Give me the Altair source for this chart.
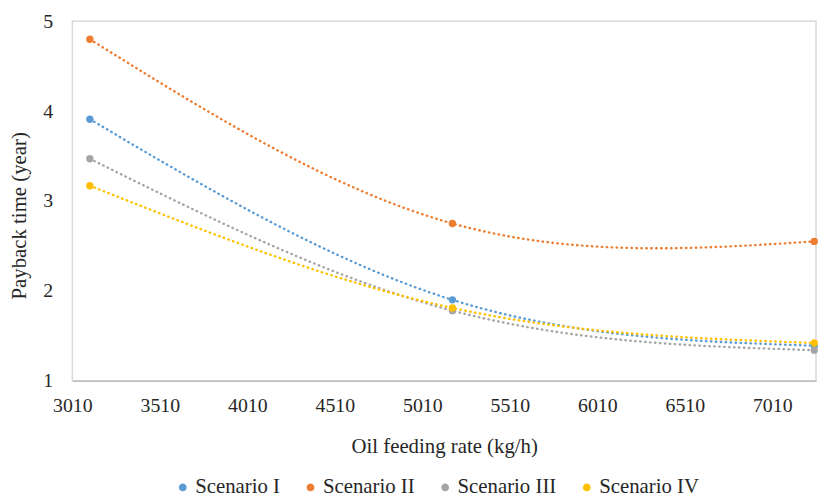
import altair as alt
import pandas as pd

feed_rate = [3110, 5182, 7250]
scenario_1 = [3.91, 1.90, 1.39]
scenario_2 = [4.80, 2.75, 2.55]
scenario_3 = [3.47, 1.78, 1.34]
scenario_4 = [3.17, 1.81, 1.42]
series_names = ["Scenario I", "Scenario II", "Scenario III", "Scenario IV"]
series_colors = ["#5B9BD5", "#ED7D31", "#A5A5A5", "#FFC000"]
x_ticks = [3010, 3510, 4010, 4510, 5010, 5510, 6010, 6510, 7010]
y_ticks = [1, 2, 3, 4, 5]

rows = []
for name, vals in zip(series_names, [scenario_1, scenario_2, scenario_3, scenario_4]):
    for xv, yv in zip(feed_rate, vals):
        rows.append({"rate": xv, "payback": yv, "series": name})
df = pd.DataFrame(rows)

FONT = "Liberation Serif"

x = alt.X("rate:Q", scale=alt.Scale(domain=[3010, 7260], nice=False, zero=False),
          axis=alt.Axis(values=x_ticks, format="d", title="Oil feeding rate (kg/h)", grid=False,
                        ticks=False, labelPadding=15, titlePadding=20, domainColor="#BFBFBF",
                        domainWidth=1.5, labelFlush=False, labelFontSize=20))
y = alt.Y("payback:Q", scale=alt.Scale(domain=[1, 5], nice=False, zero=False),
          axis=alt.Axis(values=y_ticks, format="d", title="Payback time (year)", grid=False,
                        ticks=False, labelPadding=20, titlePadding=13, domain=False,
                        labelFontSize=20, titleY=196))
color = alt.Color("series:N", scale=alt.Scale(domain=series_names, range=series_colors),
                  legend=alt.Legend(title=None, orient="none", direction="horizontal",
                                    legendX=101, legendY=460, symbolType="circle",
                                    symbolSize=40, labelFontSize=21, labelFont=FONT,
                                    labelColor="#262626", columnPadding=20, labelOffset=2))

base = alt.Chart(df).encode(x=x, y=y, color=color)
lines = base.mark_line(interpolate="natural", strokeDash=[0.5, 4.5], strokeWidth=2.4, strokeCap="round")
points = base.mark_circle(size=55, opacity=1)

chart = (lines + points).properties(
    width=751, height=363,
    autosize=alt.AutoSizeParams(type="none"),
    padding={"left": 65, "top": 11, "right": 2, "bottom": 115},
).configure(font=FONT).configure_view(
    stroke="#D9D9D9", strokeWidth=1.5
).configure_axis(
    labelFont=FONT, titleFont=FONT, titleFontSize=21,
    labelColor="#262626", titleColor="#262626", titleFontWeight="normal"
)

chart.save("out.html", embed_options={"renderer": "svg", "actions": False})
